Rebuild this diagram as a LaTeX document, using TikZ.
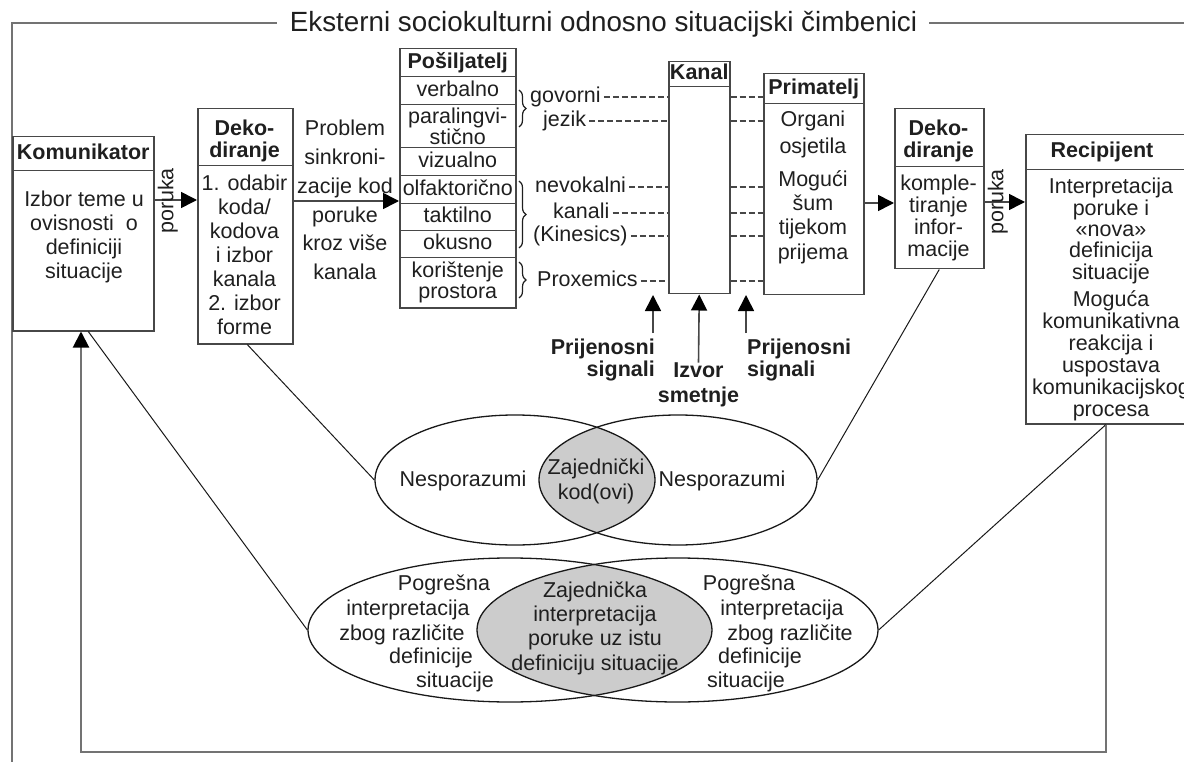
\documentclass[tikz,border=0pt]{standalone}
\usepackage{fontspec}
\setmainfont{Liberation Sans}
\usetikzlibrary{arrows.meta,decorations.pathreplacing,calc,shapes.geometric}
\colorlet{boxc}{black!72}
\colorlet{txt}{black!88}
\colorlet{framec}{black!55}
\colorlet{lensc}{black!20}
\begin{document}
\begin{tikzpicture}[x=1pt,y=-1pt,
  every node/.style={text=txt, font=\fontsize{21.5pt}{24pt}\selectfont, inner sep=0pt, align=center},
  cell/.style={draw=boxc, line width=1.5pt, anchor=north west},
  one/.style={text height=15.4pt, text depth=4.5pt},
  hd/.style={font=\fontsize{21.5pt}{22pt}\selectfont\bfseries},
  lbl/.style={text height=15.4pt, text depth=4.5pt},
  arr/.style={draw=boxc, line width=1.6pt, -{Triangle[length=16pt,width=16pt,color=black]}},
  dsh/.style={draw=boxc, line width=1.2pt, dash pattern=on 6pt off 3pt},
  conn/.style={draw=black!90, line width=1pt},
  framel/.style={draw=framec, line width=2pt},
  brc/.style={draw=txt, line width=1.2pt, decorate, decoration={brace, amplitude=7pt}},
  ell/.style={ellipse, draw=black!90, line width=1.3pt, inner sep=0pt},
]
\useasboundingbox (0,0) rectangle (1184,762);
\clip (0,0) rectangle (1184,762);

% ---------- title and outer frame ----------
\node[anchor=base, font=\fontsize{27.8pt}{30pt}\selectfont] (title) at (603.5,32) {Eksterni sociokulturni odnosno situacijski čimbenici};
\coordinate (ftl) at (12,23);
\coordinate (ftr) at (1195,23);
\coordinate (fbl) at (12,775);
\draw[framel] ($(title.west |- ftl)+(-13,0)$) -- (ftl) -- (fbl);
\draw[framel] ($(title.east |- ftl)+(12,0)$) -- (ftr);

% ---------- helper rows ----------
\coordinate (y200) at (0,200);
\coordinate (y201) at (0,201);
\coordinate (y202) at (0,202);
\coordinate (y203) at (0,203);

% ---------- Komunikator ----------
\node[cell, one, hd, minimum width=141pt, minimum height=34pt] (komh) at (12,136) {Komunikator};
\node[cell, minimum width=141pt, minimum height=160pt] (kom) at (12,170) {};
\node (komt) at (84,237) {Izbor teme u\\ovisnosti~ o\\definiciji\\situacije};

% ---------- Dekodiranje 1 ----------
\node[cell, minimum width=95pt, minimum height=57pt] (dek1h) at (197,108) {};
\node[hd] (dek1ht) at (244.5,141) {Deko-\\diranje};
\node[cell, minimum width=95pt, minimum height=178pt] (dek1) at (197,165) {};
\node (dek1t) at (244.5,255) {1. odabir\\koda/\\kodova\\i izbor\\kanala\\2. izbor\\forme};

\draw[arr] (kom.east |- y200) -- (dek1.west |- y200);
\node[lbl, rotate=90] (por1) at (168,201) {poruka};

% ---------- Problem text ----------
\node[font=\fontsize{21.5pt}{28.8pt}\selectfont] (prob) at (345,200) {Problem\\sinkroni-\\zacije kod\\poruke\\kroz više\\kanala};

% ---------- Posiljatelj column ----------
\node[cell, one, hd, minimum width=116pt, minimum height=28pt] (p0) at (399,48) {Pošiljatelj};
\node[cell, one, minimum width=116pt, minimum height=28pt] (p1) at (399,76) {verbalno};
\node[cell, minimum width=116pt, minimum height=43pt, font=\fontsize{21.5pt}{19pt}\selectfont] (p2) at (399,104) {paralingvi-\\stično};
\node[cell, one, minimum width=116pt, minimum height=28pt] (p3) at (399,147) {vizualno};
\node[cell, one, minimum width=116pt, minimum height=28pt] (p4) at (399,175) {olfaktorično};
\node[cell, one, minimum width=116pt, minimum height=27pt] (p5) at (399,203) {taktilno};
\node[cell, one, minimum width=116pt, minimum height=27pt] (p6) at (399,230) {okusno};
\node[cell, minimum width=116pt, minimum height=50pt, font=\fontsize{21.5pt}{21pt}\selectfont] (p7) at (399,257) {korištenje\\prostora};

\draw[arr] (dek1.east |- y201) -- (p4.west |- y201);

% braces
\coordinate (b1t) at (519,90);  \coordinate (b1b) at (519,127);
\coordinate (b2t) at (519,181); \coordinate (b2b) at (519,248);
\coordinate (b3t) at (519,262); \coordinate (b3b) at (519,298);
\draw[brc] (b1t) -- (b1b);
\draw[brc] (b2t) -- (b2b);
\draw[brc] (b3t) -- (b3b);

% ---------- Kanal ----------
\node[cell, one, hd, minimum width=61pt, minimum height=25pt] (kanh) at (668,61) {Kanal};
\node[cell, minimum width=61pt, minimum height=207pt] (kanal) at (668,86) {};

% ---------- Primatelj ----------
\node[cell, one, hd, minimum width=100pt, minimum height=30pt] (primh) at (763,73) {Primatelj};
\node[cell, minimum width=100pt, minimum height=191pt] (prim) at (763,103) {};
\node[font=\fontsize{21.5pt}{27pt}\selectfont] (primt1) at (813,134) {Organi\\osjetila};
\node[font=\fontsize{21.5pt}{24.3pt}\selectfont] (primt2) at (813,217) {Mogući\\šum\\tijekom\\prijema};

% channel labels and dashed links
\node[lbl, anchor=west] (gov) at (530,97) {govorni};
\node[lbl, anchor=west] (jez) at (543,121) {jezik};
\node[lbl, anchor=west] (nev) at (535,187) {nevokalni};
\node[lbl, anchor=west] (kan) at (553,213) {kanali};
\node[lbl, anchor=west] (kin) at (533,236) {(Kinesics)};
\node[lbl, anchor=west] (prox) at (537,281) {Proxemics};
\foreach \n in {gov,jez,nev,kan,kin,prox}{
  \draw[dsh] ($(\n.east)+(3,0)$) -- (kanal.west |- \n.east);
  \draw[dsh] (kanal.east |- \n.east) -- (prim.west |- \n.east);
}

% ---------- Dekodiranje 2 ----------
\node[cell, minimum width=89pt, minimum height=58pt] (dek2h) at (894,108) {};
\node[hd] (dek2ht) at (938.5,141) {Deko-\\diranje};
\node[cell, minimum width=89pt, minimum height=102pt] (dek2) at (894,166) {};
\node[font=\fontsize{21.5pt}{22.2pt}\selectfont] (dek2t) at (938.5,218) {komple-\\tiranje\\infor-\\macije};

\draw[arr] (prim.east |- y203) -- (dek2.west |- y203);

% ---------- Recipijent ----------
\node[cell, minimum width=172pt, minimum height=35pt] (rech) at (1025,134) {};
\node[lbl, hd] (recht) at (1102,152) {Recipijent};
\node[cell, minimum width=172pt, minimum height=254pt] (rec) at (1025,169) {};
\node[font=\fontsize{21.5pt}{21.3pt}\selectfont] (rect1) at (1111,231) {Interpretacija\\poruke i\\«nova»\\definicija\\situacije};
\node[font=\fontsize{21.5pt}{22pt}\selectfont] (rect2) at (1111,356) {Moguća\\komunikativna\\reakcija i\\uspostava\\komunikacijskog\\procesa};

\draw[arr] (dek2.east |- y202) -- (rec.west |- y202);
\node[lbl, rotate=90] (por2) at (998,202) {poruka};

% ---------- signals under the channel ----------
\node[hd, align=right, anchor=east] (sigL) at (655,360) {Prijenosni\\signali};
\node[hd, align=left, anchor=west] (sigR) at (747,360) {Prijenosni\\signali};
\node[font=\fontsize{21.5pt}{25pt}\selectfont\bfseries] (izv) at (698.5,385) {Izvor\\smetnje};
\coordinate (sLb) at (653,333); \coordinate (sLt) at (653,295);
\coordinate (sRb) at (746,333); \coordinate (sRt) at (746,295);
\draw[arr] (sLb) -- (sLt);
\draw[arr] (sRb) -- (sRt);
\draw[arr] (izv.north) -- (kanal.south);

% ---------- ellipses ----------
\begin{scope}
  \clip (515,480) ellipse [x radius=140pt, y radius=65pt];
  \fill[lensc] (678,480) ellipse [x radius=139pt, y radius=65pt];
\end{scope}
\begin{scope}
  \clip (510,630) ellipse [x radius=202pt, y radius=72pt];
  \fill[lensc] (677.5,630) ellipse [x radius=200.5pt, y radius=72pt];
\end{scope}
\node[ell, minimum width=280pt, minimum height=130pt] (e1) at (515,480) {};
\node[ell, minimum width=278pt, minimum height=130pt] (e2) at (678,480) {};
\node[ell, minimum width=404pt, minimum height=144pt] (e3) at (510,630) {};
\node[ell, minimum width=401pt, minimum height=144pt] (e4) at (677.5,630) {};

\node[lbl] (nes1) at (463,481) {Nesporazumi};
\node[lbl] (nes2) at (722,481) {Nesporazumi};
\node[font=\fontsize{21.5pt}{25pt}\selectfont] (zk) at (596,481) {Zajednički\\kod(ovi)};

\node[lbl] (l1) at (444,585) {Pogrešna};
\node[lbl] (l2) at (408,610) {interpretacija};
\node[lbl] (l3) at (402,635) {zbog različite};
\node[lbl] (l4) at (431,658) {definicije};
\node[lbl] (l5) at (455,682) {situacije};
\node[font=\fontsize{21.5pt}{24.3pt}\selectfont] (zi) at (595,628) {Zajednička\\interpretacija\\poruke uz istu\\definiciju situacije};
\node[lbl] (r1) at (749,585) {Pogrešna};
\node[lbl] (r2) at (782,610) {interpretacija};
\node[lbl] (r3) at (790,635) {zbog različite};
\node[lbl] (r4) at (760,658) {definicije};
\node[lbl] (r5) at (746,682) {situacije};

% ---------- connectors to ellipses ----------
\coordinate (fbL) at (81,752);
\coordinate (fbR) at (1106,752);
\draw[conn] ($(dek1.south)+(2,0)$) -- (e1.west);
\draw[conn] (dek2.south) -- (e2.east);
\draw[conn] ($(kom.south)+(5,0)$) -- (e3.west);
\draw[conn] (rec.south -| fbR) -- (e4.east);

% ---------- feedback loop ----------
\draw[arr, draw=framec, line width=2pt] (rec.south -| fbR) -- (fbR) -- (fbL) -- (kom.south -| fbL);
\end{tikzpicture}
\end{document}
